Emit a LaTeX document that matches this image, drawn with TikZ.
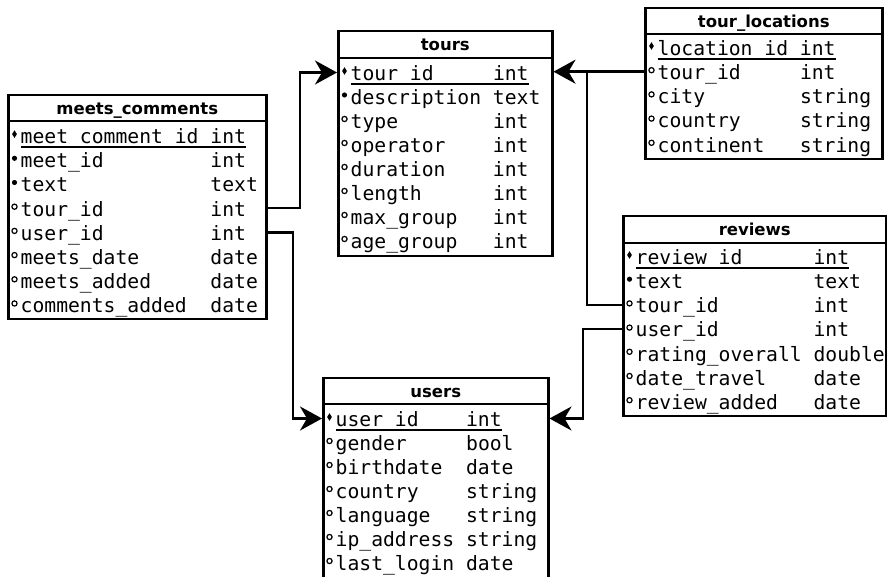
\documentclass[tikz,border=0pt]{standalone}
\usepackage{fontspec}
\setmainfont{DejaVu Sans}
\newfontfamily\monof{DejaVu Sans Mono}
\usetikzlibrary{arrows.meta}
\newcommand\fld[3]{\makebox[\dimexpr 0.602em*#1\relax][l]{#2}#3}
\begin{document}
\begin{tikzpicture}[x=1pt,y=-1pt,
  tblbody/.style={draw, line width=2.5pt, anchor=north west, inner sep=0pt, fill=white},
  tblhead/.style={draw, line width=2.5pt, anchor=north west, inner sep=0pt, fill=white,
    font=\bfseries\fontsize{16.5}{18}\selectfont, text height=12.5pt, text depth=0pt},
  fieldrow/.style={anchor=west, inner sep=0pt, font=\monof\fontsize{19.7}{24}\selectfont,
    text height=20pt, text depth=4.2pt},
  conn/.style={line width=2.5pt},
  arr/.style={-{Stealth[length=22pt,width=24pt,inset=7pt]}},
  ul/.style={line width=1.4pt},
  pk/.pic={\fill (0,-3.8) -- (2.4,0) -- (0,3.8) -- (-2.4,0) -- cycle;},
  nn/.pic={\fill (0,0) circle (2.6);},
  op/.pic={\draw[line width=1.2pt] (0,0) circle (2.6);}
]
\useasboundingbox (0,0) rectangle (887,577);
\clip (0,0) rectangle (887,577);
\fill[white] (0,0) rectangle (887,577);

% ---------- meets_comments ----------
\node[tblhead, minimum width=258pt, minimum height=26pt] (mch) at (7,94) {meets\_comments};
\node[tblbody, minimum width=258pt, minimum height=198pt] (mc) at (7,120) {};
\node[fieldrow] (mc1) at (20.5,135.6) {\fld{16}{meet\_comment\_id}{int}};
\node[fieldrow] (mc2) at (20.5,159.8) {\fld{16}{meet\_id}{int}};
\node[fieldrow] (mc3) at (20.5,184.0) {\fld{16}{text}{text}};
\node[fieldrow] (mc4) at (20.5,208.2) {\fld{16}{tour\_id}{int}};
\node[fieldrow] (mc5) at (20.5,232.4) {\fld{16}{user\_id}{int}};
\node[fieldrow] (mc6) at (20.5,256.6) {\fld{16}{meets\_date}{date}};
\node[fieldrow] (mc7) at (20.5,280.8) {\fld{16}{meets\_added}{date}};
\node[fieldrow] (mc8) at (20.5,305.0) {\fld{16}{comments\_added}{date}};
\path (mc1.west) ++(-6,-1.5) pic {pk};
\path (mc2.west) ++(-6,-1.5) pic {nn};
\path (mc3.west) ++(-6,-1.5) pic {nn};
\foreach \r in {mc4,mc5,mc6,mc7,mc8} {\path (\r.west) ++(-6,-1.5) pic {op};}
\draw[ul] ([yshift=0.7pt]mc1.south west) -- ([yshift=0.7pt]mc1.south east);

% ---------- tours ----------
\node[tblhead, minimum width=214pt, minimum height=27pt] (tsh) at (337,30) {tours};
\node[tblbody, minimum width=214pt, minimum height=198pt] (ts) at (337,57) {};
\node[fieldrow] (ts1) at (350.5,72.5) {\fld{12}{tour\_id}{int}};
\node[fieldrow] (ts2) at (350.5,96.5) {\fld{12}{description}{text}};
\node[fieldrow] (ts3) at (350.5,120.5) {\fld{12}{type}{int}};
\node[fieldrow] (ts4) at (350.5,144.5) {\fld{12}{operator}{int}};
\node[fieldrow] (ts5) at (350.5,168.5) {\fld{12}{duration}{int}};
\node[fieldrow] (ts6) at (350.5,192.5) {\fld{12}{length}{int}};
\node[fieldrow] (ts7) at (350.5,216.5) {\fld{12}{max\_group}{int}};
\node[fieldrow] (ts8) at (350.5,240.5) {\fld{12}{age\_group}{int}};
\path (ts1.west) ++(-6,-1.5) pic {pk};
\path (ts2.west) ++(-6,-1.5) pic {nn};
\foreach \r in {ts3,ts4,ts5,ts6,ts7,ts8} {\path (\r.west) ++(-6,-1.5) pic {op};}
\draw[ul] ([yshift=0.7pt]ts1.south west) -- ([yshift=0.7pt]ts1.south east);

% ---------- tour_locations ----------
\node[tblhead, minimum width=237pt, minimum height=26pt] (tlh) at (644,7) {tour\_locations};
\node[tblbody, minimum width=237pt, minimum height=125pt] (tl) at (644,33) {};
\node[fieldrow] (tl1) at (657.5,47.5) {\fld{12}{location\_id}{int}};
\node[fieldrow] (tl2) at (657.5,71.7) {\fld{12}{tour\_id}{int}};
\node[fieldrow] (tl3) at (657.5,95.9) {\fld{12}{city}{string}};
\node[fieldrow] (tl4) at (657.5,120.1) {\fld{12}{country}{string}};
\node[fieldrow] (tl5) at (657.5,144.3) {\fld{12}{continent}{string}};
\path (tl1.west) ++(-6,-1.5) pic {pk};
\foreach \r in {tl2,tl3,tl4,tl5} {\path (\r.west) ++(-6,-1.5) pic {op};}
\draw[ul] ([yshift=0.7pt]tl1.south west) -- ([yshift=0.7pt]tl1.south east);

% ---------- reviews ----------
\node[tblhead, minimum width=263pt, minimum height=27pt] (rvh) at (622,215) {reviews};
\node[tblbody, minimum width=263pt, minimum height=173pt] (rv) at (622,242) {};
\node[fieldrow] (rv1) at (635.5,256.5) {\fld{15}{review\_id}{int}};
\node[fieldrow] (rv2) at (635.5,280.7) {\fld{15}{text}{text}};
\node[fieldrow] (rv3) at (635.5,304.9) {\fld{15}{tour\_id}{int}};
\node[fieldrow] (rv4) at (635.5,329.1) {\fld{15}{user\_id}{int}};
\node[fieldrow] (rv5) at (635.5,353.3) {\fld{15}{rating\_overall}{double}};
\node[fieldrow] (rv6) at (635.5,377.5) {\fld{15}{date\_travel}{date}};
\node[fieldrow] (rv7) at (635.5,401.7) {\fld{15}{review\_added}{date}};
\path (rv1.west) ++(-6,-1.5) pic {pk};
\path (rv2.west) ++(-6,-1.5) pic {nn};
\foreach \r in {rv3,rv4,rv5,rv6,rv7} {\path (\r.west) ++(-6,-1.5) pic {op};}
\draw[ul] ([yshift=0.7pt]rv1.south west) -- ([yshift=0.7pt]rv1.south east);

% ---------- users ----------
\node[tblhead, minimum width=225pt, minimum height=26pt] (ush) at (322,377) {users};
\node[tblbody, minimum width=225pt, minimum height=210pt] (us) at (322,403) {};
\node[fieldrow] (us1) at (335.5,418.5) {\fld{11}{user\_id}{int}};
\node[fieldrow] (us2) at (335.5,442.5) {\fld{11}{gender}{bool}};
\node[fieldrow] (us3) at (335.5,466.5) {\fld{11}{birthdate}{date}};
\node[fieldrow] (us4) at (335.5,490.5) {\fld{11}{country}{string}};
\node[fieldrow] (us5) at (335.5,514.5) {\fld{11}{language}{string}};
\node[fieldrow] (us6) at (335.5,538.5) {\fld{11}{ip\_address}{string}};
\node[fieldrow] (us7) at (335.5,562.5) {\fld{11}{last\_login}{date}};
\path (us1.west) ++(-6,-1.5) pic {pk};
\foreach \r in {us2,us3,us4,us5,us6,us7} {\path (\r.west) ++(-6,-1.5) pic {op};}
\draw[ul] ([yshift=0.7pt]us1.south west) -- ([yshift=0.7pt]us1.south east);

% ---------- connectors ----------
\coordinate (b1) at (300,0);
\coordinate (b2) at (293,0);
\coordinate (b3) at (587,0);
\coordinate (b4) at (583,0);
\draw[conn,arr] (mc.east |- mc4) -| (b1 |- ts1) -- (ts.west |- ts1);
\draw[conn,arr] (mc.east |- mc5) -| (b2 |- us1) -- (us.west |- us1);
\draw[conn,arr] (tl.west |- tl2) -- (ts.east |- tl2);
\draw[conn] (rv.west |- rv3) -| (b3 |- tl2);
\draw[conn,arr] (rv.west |- rv4) -| (b4 |- us1) -- (us.east |- us1);
\end{tikzpicture}
\end{document}
